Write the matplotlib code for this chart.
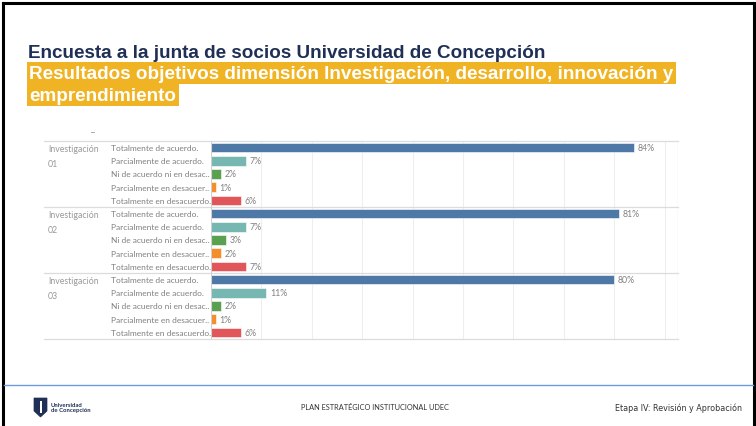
import matplotlib
matplotlib.use("Agg")
import matplotlib.pyplot as plt
from matplotlib import transforms
from matplotlib.patches import Rectangle, Polygon
from matplotlib.lines import Line2D

# ---------------- data ----------------
groups = ["Investigación\n01", "Investigación\n02", "Investigación\n03"]
categories = ["Totalmente de acuerdo.", "Parcialmente de acuerdo.",
              "Ni de acuerdo ni en desac..", "Parcialmente en desacuer..",
              "Totalmente en desacuerdo."]
inv01 = [84, 7, 2, 1, 6]
inv02 = [81, 7, 3, 2, 7]
inv03 = [80, 11, 2, 1, 6]
series = [inv01, inv02, inv03]
colors = ["#4e79a7", "#76b7b2", "#59a14f", "#f28e2b", "#e15759"]
grid_ticks = [10, 20, 30, 40, 50, 60, 70, 80, 90]

title = "Encuesta a la junta de socios Universidad de Concepción"
subtitle1 = "Resultados objetivos dimensión Investigación, desarrollo, innovación y"
subtitle2 = "emprendimiento"
footer_mid = "PLAN ESTRATÉGICO INSTITUCIONAL UDEC"
footer_right = "Etapa IV: Revisión y Aprobación"
logo_text = "Universidad\nde Concepción"

W, H = 756, 427
fig = plt.figure(figsize=(W / 100, H / 100), dpi=100)
fig.patch.set_facecolor("white")

def fx(px):
    return px / W

def fy(py):
    return 1 - py / H

# ---------------- page border ----------------
fig.add_artist(Line2D([fx(3), fx(3)], [fy(4), fy(427)], color="black", lw=2.2))
fig.add_artist(Line2D([fx(754), fx(754)], [fy(4), fy(427)], color="black", lw=2.2))
fig.add_artist(Line2D([fx(3), fx(754)], [fy(4), fy(4)], color="black", lw=2.2))

# ---------------- titles ----------------
tsize = 13.55
fig.text(fx(28), fy(58), title, fontsize=tsize, fontweight="bold", color="#1f2f55",
         family="Liberation Sans", va="baseline", ha="left")

fig.canvas.draw()
r = fig.canvas.get_renderer()
t1 = fig.text(fx(29), fy(79), subtitle1, fontsize=tsize, fontweight="bold", color="white",
              family="Liberation Sans", va="baseline", ha="left", zorder=5)
t2 = fig.text(fx(29), fy(101), subtitle2, fontsize=tsize, fontweight="bold", color="white",
              family="Liberation Sans", va="baseline", ha="left", zorder=5)
w1 = t1.get_window_extent(r).x1
w2 = t2.get_window_extent(r).x1
fig.add_artist(Rectangle((fx(27), fy(85)), (w1 + 3) / W - fx(27), fy(63) - fy(85),
                         facecolor="#f0b323", edgecolor="none", zorder=1))
fig.add_artist(Rectangle((fx(27), fy(107)), (w2 + 3) / W - fx(27), fy(85) - fy(107),
                         facecolor="#f0b323", edgecolor="none", zorder=1))

# ---------------- chart ----------------
x0, x1 = 211, 678
ytop, ybot = 142, 340
ax = fig.add_axes([fx(x0), fy(ybot), fx(x1) - fx(x0), fy(ytop) - fy(ybot)])
xmax = (x1 - x0) / 5.04
n_rows = len(groups) * len(categories)
ax.set_xlim(0, xmax)
ax.set_ylim(n_rows - 0.5, -0.5)
for s in ax.spines.values():
    s.set_visible(False)
ax.set_xticks([])
ax.set_yticks([])

for t in grid_ticks:
    ax.axvline(t, color="#eeeeee", lw=0.8, zorder=0)

blend = transforms.blended_transform_factory(fig.transFigure, ax.transData)
fs = 6.0
row = 0
for gi, (g, vals) in enumerate(zip(groups, series)):
    ax.text(fx(48), row - 0.3, g, transform=blend, fontsize=6.3, color="#999999",
            va="top", ha="left", family="Lato", linespacing=1.9)
    for ci, (cat, v) in enumerate(zip(categories, vals)):
        ax.barh(row, v, height=0.72, color=colors[ci], edgecolor="white", lw=0.4, zorder=2)
        ax.text(fx(111), row, cat, transform=blend, fontsize=fs, color="#808080",
                va="center", ha="left", family="Lato")
        ax.annotate(f"{v}%", (v, row), xytext=(2.5, 0), textcoords="offset points",
                    fontsize=6.3, color="#808080", va="center", ha="left", family="Lato")
        row += 1

# separators / frame
for yb in [-0.5, 4.5, 9.5, 14.5]:
    ax.add_artist(Line2D([fx(44), fx(x1)], [yb, yb], transform=blend,
                         color="#dcdcdc", lw=0.9, clip_on=False))
ax.axvline(0, color="#d0d0d0", lw=0.8, zorder=3)
ax.axvline(xmax, color="#dcdcdc", lw=0.9, zorder=3)
fig.add_artist(Line2D([fx(91), fx(94)], [fy(133), fy(133)], color="#999999", lw=0.6))

# ---------------- footer ----------------
fig.add_artist(Line2D([fx(4), fx(753)], [fy(386), fy(386)], color="#6f9be0", lw=1.0))
fig.text(fx(375), fy(408), footer_mid, fontsize=5.3, color="#333333",
         family="Lato", ha="center", va="center")
fig.text(fx(742), fy(408), footer_right, fontsize=5.8, color="#333333",
         family="DejaVu Sans", ha="right", va="center")
# logo shield
shield = Polygon([(fx(34), fy(399)), (fx(47), fy(399)), (fx(47), fy(412)),
                  (fx(40.5), fy(418)), (fx(34), fy(412))],
                 closed=True, facecolor="#1f2f55", edgecolor="#1f2f55", lw=0.5)
fig.add_artist(shield)
fig.add_artist(Rectangle((fx(39.5), fy(414)), fx(2), fy(402) - fy(414),
                         facecolor="white", edgecolor="none"))
fig.text(fx(51), fy(408), logo_text, fontsize=4.3, fontweight="bold", color="#1f2f55",
         family="Lato", ha="left", va="center", linespacing=1.2)

fig.savefig("out.png", dpi=100)
